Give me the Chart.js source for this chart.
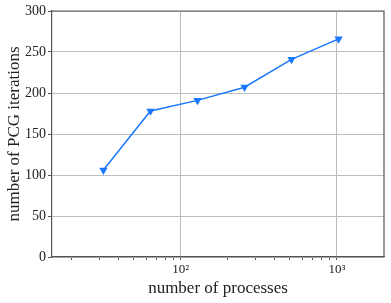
<!DOCTYPE html>
<html>
<head>
<meta charset="utf-8">
<script src="https://cdn.jsdelivr.net/npm/chart.js@4/dist/chart.umd.min.js"></script>
<style>
  html, body { margin: 0; padding: 0; background: #fff; }
  #wrap { width: 391px; height: 303px; }
</style>
</head>
<body>
<div id="wrap"><canvas id="pcgChart"></canvas></div>
<script>
/* data */
const processes = [32, 64, 128, 256, 512, 1024];
const iterations = [106, 178, 191, 207, 241, 266];
const xTickValues = [20, 30, 40, 50, 60, 70, 80, 90, 100, 200, 300, 400, 500, 600, 700, 800, 900, 1000];
const xTickLabels = { 100: '10\u00B2', 1000: '10\u00B3' };
const yTickValues = [0, 50, 100, 150, 200, 250, 300];

const fontFamily = '"Liberation Serif", "DejaVu Serif", serif';
const lineBlue = '#1a78ff';
const gridGrey = '#bdbdbd';
const spineGrey = '#555';

/* top and right spines */
const boxPlugin = {
  id: 'box',
  afterDraw(chart) {
    const { ctx, chartArea: a } = chart;
    ctx.save();
    ctx.strokeStyle = spineGrey;
    ctx.lineWidth = 1.2;
    ctx.beginPath();
    ctx.moveTo(a.left, a.top);
    ctx.lineTo(a.right, a.top);
    ctx.lineTo(a.right, a.bottom);
    ctx.stroke();
    ctx.restore();
  }
};

new Chart(document.getElementById('pcgChart'), {
  type: 'line',
  data: {
    datasets: [{
      data: processes.map((p, i) => ({ x: p, y: iterations[i] })),
      borderColor: lineBlue,
      backgroundColor: lineBlue,
      borderWidth: 1.5,
      pointStyle: 'triangle',
      rotation: 180,
      pointRadius: 4.8,
      pointBorderWidth: 0,
      tension: 0
    }]
  },
  options: {
    responsive: true,
    maintainAspectRatio: false,
    animation: false,
    layout: { padding: { top: 11, right: 7, left: 0, bottom: 0 } },
    plugins: { legend: { display: false }, tooltip: { enabled: false } },
    scales: {
      x: {
        type: 'logarithmic',
        min: 15,
        max: 2000,
        afterBuildTicks: (scale) => { scale.ticks = xTickValues.map(v => ({ value: v })); },
        afterFit: (scale) => { scale.height = 46; },
        grid: {
          color: (c) => (c.tick && xTickLabels[c.tick.value]) ? gridGrey : 'rgba(0,0,0,0)',
          tickColor: spineGrey,
          tickLength: 3
        },
        border: { color: spineGrey, width: 1.2 },
        ticks: {
          autoSkip: false,
          maxRotation: 0,
          padding: 2,
          color: '#222',
          font: { family: fontFamily, size: 13 },
          callback: (v) => xTickLabels[v] || ''
        },
        title: {
          display: true,
          text: 'number of processes',
          color: '#222',
          font: { family: fontFamily, size: 17 },
          padding: { top: 0 }
        }
      },
      y: {
        min: 0,
        max: 300,
        afterBuildTicks: (scale) => { scale.ticks = yTickValues.map(v => ({ value: v })); },
        afterFit: (scale) => { scale.width = 52; },
        grid: { color: gridGrey, tickColor: spineGrey, tickLength: 4 },
        border: { color: spineGrey, width: 1.2 },
        ticks: {
          padding: 2,
          color: '#222',
          font: { family: fontFamily, size: 14 }
        },
        title: {
          display: true,
          text: 'number of PCG iterations',
          color: '#222',
          font: { family: fontFamily, size: 17 },
          padding: { bottom: 2 }
        }
      }
    }
  },
  plugins: [boxPlugin]
});
</script>
</body>
</html>
